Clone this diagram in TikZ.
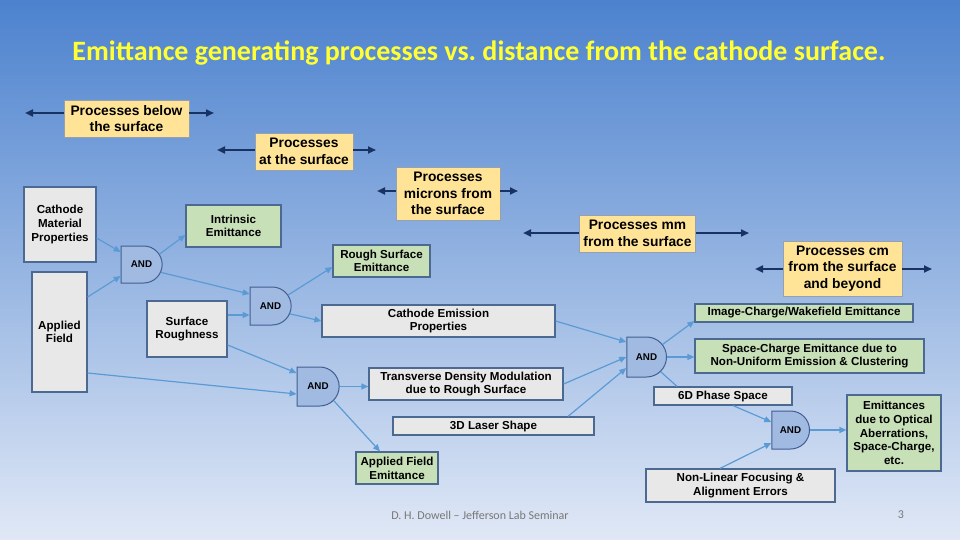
\documentclass[tikz,border=0pt]{standalone}
\usepackage{fontspec}
\setmainfont{Liberation Sans}
\newfontfamily\titlefont{Carlito}
\usetikzlibrary{shapes.misc,arrows.meta}
\frenchspacing
\definecolor{bgtop}{RGB}{76,130,206}
\definecolor{bgmid}{RGB}{180,202,236}
\definecolor{bgbot}{RGB}{224,232,246}
\definecolor{titleyellow}{RGB}{255,255,51}
\definecolor{boxyellow}{RGB}{255,228,152}
\definecolor{yborder}{RGB}{150,160,175}
\definecolor{boxgray}{RGB}{232,232,232}
\definecolor{boxgreen}{RGB}{200,224,184}
\definecolor{boxborder}{RGB}{75,105,145}
\definecolor{andfill}{RGB}{160,186,226}
\definecolor{andborder}{RGB}{65,95,145}
\definecolor{conn}{RGB}{91,155,213}
\definecolor{navy}{RGB}{25,50,100}
\definecolor{footgray}{RGB}{120,120,120}
\tikzset{
  box/.style={draw=boxborder, line width=1.2pt, align=center, inner sep=0pt,
    font=\bfseries\fontsize{11.6}{13.7}\selectfont},
  graybox/.style={box, fill=boxgray},
  greenbox/.style={box, fill=boxgreen},
  yellowbox/.style={draw=yborder, line width=0.8pt, fill=boxyellow, align=center, inner sep=0pt,
    font=\bfseries\fontsize{13.8}{16.5}\selectfont},
  andgate/.style={rounded rectangle, rounded rectangle left arc=none, draw=andborder,
    fill=andfill, line width=1pt, inner sep=0pt, font=\bfseries\fontsize{9.8}{11}\selectfont},
  link/.style={draw=conn, line width=1.2pt, -{Triangle[length=7pt,width=6pt]}},
  plainlink/.style={draw=conn, line width=1.2pt},
  spanarrow/.style={draw=navy, line width=2pt, -{Triangle[length=8pt,width=7pt]}}
}
\begin{document}
\begin{tikzpicture}[x=1pt,y=-1pt]
\useasboundingbox (0,0) rectangle (960,540);
\shade[top color=bgtop, middle color=bgmid, bottom color=bgbot] (0,0) rectangle (960,540);

\node[font=\titlefont\bfseries\fontsize{28}{32}\selectfont, text=titleyellow] (title) at (479,53) {Emittance generating processes vs. distance from the cathode surface.};

% yellow range boxes
\node[yellowbox, minimum width=125pt, minimum height=37pt] (y1) at (126.5,118.5) {Processes below\\the surface};
\node[yellowbox, minimum width=98pt, minimum height=37pt] (y2) at (304,151.5) {Processes\\at the surface};
\node[yellowbox, minimum width=104pt, minimum height=53pt] (y3) at (448,193.5) {Processes\\microns from\\the surface};
\node[yellowbox, minimum width=116pt, minimum height=37pt] (y4) at (637.5,233.5) {Processes mm\\from the surface};
\node[yellowbox, minimum width=119pt, minimum height=55pt] (y5) at (842.5,268.5) {Processes cm\\from the surface\\and beyond};

\coordinate (y1l) at (25,113); \coordinate (y1r) at (214,113);
\coordinate (y2l) at (217,150); \coordinate (y2r) at (376,150);
\coordinate (y3l) at (377,191); \coordinate (y3r) at (518,191);
\coordinate (y4l) at (523,233); \coordinate (y4r) at (749,233);
\coordinate (y5l) at (755,269); \coordinate (y5r) at (932,269);
\draw[spanarrow] (y1.west |- y1l) -- (y1l);
\draw[spanarrow] (y1.east |- y1r) -- (y1r);
\draw[spanarrow] (y2.west |- y2l) -- (y2l);
\draw[spanarrow] (y2.east |- y2r) -- (y2r);
\draw[spanarrow] (y3.west |- y3l) -- (y3l);
\draw[spanarrow] (y3.east |- y3r) -- (y3r);
\draw[spanarrow] (y4.west |- y4l) -- (y4l);
\draw[spanarrow] (y4.east |- y4r) -- (y4r);
\draw[spanarrow] (y5.west |- y5l) -- (y5l);
\draw[spanarrow] (y5.east |- y5r) -- (y5r);

% gray boxes
\node[graybox, minimum width=72pt, minimum height=75pt] (cmp) at (60,224.5) {Cathode\\Material\\Properties};
\node[graybox, minimum width=55pt, minimum height=120pt] (af) at (59.5,332) {Applied\\Field};
\node[graybox, minimum width=80pt, minimum height=56pt] (sr) at (187,329) {Surface\\Roughness};
\node[graybox, minimum width=233pt, minimum height=32pt] (cep) at (438.5,321) {Cathode Emission\\Properties};
\node[graybox, minimum width=194pt, minimum height=32pt] (tdm) at (466,384) {Transverse Density Modulation\\due to Rough Surface};
\node[graybox, minimum width=201pt, minimum height=18pt] (laser) at (493.5,426) {3D Laser Shape};
\node[graybox, minimum width=138pt, minimum height=18pt] (ps) at (723,396) {6D Phase Space};
\node[graybox, minimum width=189pt, minimum height=33pt] (nlf) at (740.5,485.5) {Non-Linear Focusing \&\\Alignment Errors};

% green boxes
\node[greenbox, minimum width=95pt, minimum height=42pt] (ie) at (233.5,226) {Intrinsic\\Emittance};
\node[greenbox, minimum width=97pt, minimum height=32pt] (rse) at (381.5,261) {Rough Surface\\Emittance};
\node[greenbox, minimum width=82pt, minimum height=32pt] (afe) at (397,468) {Applied Field\\Emittance};
\node[greenbox, minimum width=218pt, minimum height=18pt] (icw) at (804,313) {Image-Charge/Wakefield Emittance};
\node[greenbox, minimum width=229pt, minimum height=34pt] (sce) at (809.5,356) {Space-Charge Emittance due to\\Non-Uniform Emission \& Clustering};
\node[greenbox, minimum width=94pt, minimum height=76pt] (eoa) at (894,433) {Emittances\\due to Optical\\Aberrations,\\Space-Charge,\\etc.};

% AND gates
\node[andgate, minimum width=41pt, minimum height=37pt] (and1) at (141.5,264.5) {AND};
\node[andgate, minimum width=41pt, minimum height=38pt] (and2) at (270.5,306) {AND};
\node[andgate, minimum width=42pt, minimum height=39pt] (and3) at (318,386.5) {AND};
\node[andgate, minimum width=34pt, minimum height=40pt] (and4) at (646.5,357) {AND};
\node[andgate, minimum width=34pt, minimum height=38pt] (and5) at (790.5,430) {AND};

% connectors
\draw[link] ([yshift=-13.5pt]cmp.east) -- ([yshift=12.5pt]and1.west);
\draw[link] ([yshift=35pt]af.east) -- ([yshift=-11.5pt]and1.west);
\draw[link] (and1.30) -- ([yshift=-9pt]ie.west);
\draw[link] (and1.-22) -- ([yshift=12pt]and2.west);
\draw[link] ([yshift=14pt]sr.east) -- ([yshift=-9pt]and2.west);
\draw[link] (and2.32) -- ([yshift=-6pt]rse.west);
\draw[link] (and2.-22) -- (cep.west);
\draw[link] ([yshift=-16pt]sr.east) -- ([yshift=13.5pt]and3.west);
\draw[link] ([yshift=-41pt]af.east) -- ([yshift=-7.5pt]and3.west);
\draw[link] (and3.east) -- (tdm.west |- and3.east);
\draw[link] (and3.-42) -- ([xshift=-17pt]afe.north);
\draw[link] (cep.east) -- ([yshift=15pt]and4.west);
\draw[link] (tdm.east) -- (and4.west);
\draw[link] ([xshift=74.5pt]laser.north) -- ([yshift=-11pt]and4.west);
\draw[link] (and4.38) -- ([yshift=-8pt]icw.west);
\draw[link] (and4.east) -- (sce.west |- and4.east);
\draw[plainlink] (and4.-46) -- ([xshift=-46pt]ps.north);
\draw[link] ([xshift=10pt]ps.south) -- ([yshift=8pt]and5.west);
\draw[link] ([xshift=-20.5pt]nlf.north) -- ([yshift=-13pt]and5.west);
\draw[link] (and5.east) -- (eoa.west |- and5.east);

% footer
\node[font=\titlefont\fontsize{12}{14}\selectfont, text=footgray] (foot) at (480,515) {D. H. Dowell – Jefferson Lab Seminar};
\node[font=\titlefont\fontsize{12}{14}\selectfont, text=footgray] (page) at (901,515) {3};
\end{tikzpicture}
\end{document}
